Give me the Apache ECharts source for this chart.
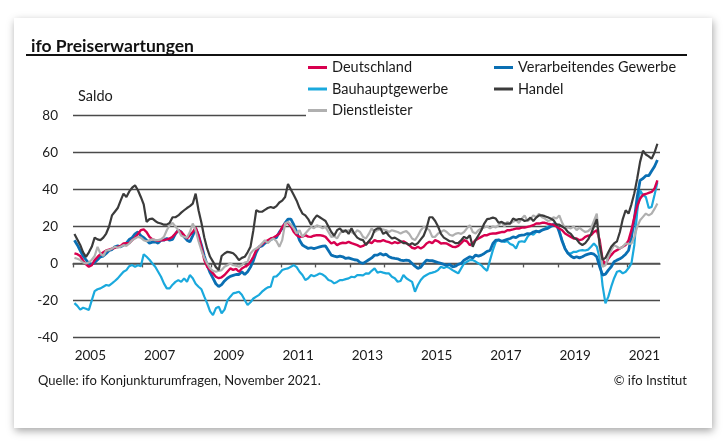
<!DOCTYPE html>
<html><head><meta charset="utf-8">
<script src="https://cdn.jsdelivr.net/npm/echarts@6/dist/echarts.min.js"></script>
<style>
html,body{margin:0;padding:0;background:#fff;}
#card{position:absolute;left:14px;top:18px;width:698px;height:410px;background:#fff;box-shadow:1px 3px 8px rgba(0,0,0,0.35);}
#chart{position:absolute;left:0;top:0;width:728px;height:448px;}
</style></head><body>
<div id="card"></div><div id="chart"></div>
<script>
// Monthly data, Jan 2005 .. Nov 2021 (Saldo)
const startYear = 2005;
const yTickValues = [-40, -20, 0, 20, 40, 60, 80];
const yearTicks = [2005,2006,2007,2008,2009,2010,2011,2012,2013,2014,2015,2016,2017,2018,2019,2020,2021];
const yearLabels = [2005,2007,2009,2011,2013,2015,2017,2019,2021];

const deutschland = [
  5.5,5,4,1.5,-0.5,-1.8,-1,1.8,3.5,5,6,7,
  7.5,8,8.5,9,9.5,10.8,11,11,12.6,14,16,18,
  18.4,17,14.4,13,12.6,12.2,12.5,12.6,13,13.5,14.5,16.2,
  18,17,15.3,13.5,15.3,17,19.4,15.3,9,1.8,-1.8,-3.6,
  -5.4,-7.2,-8,-7.5,-6.3,-4.5,-2.7,-3.5,-3,-4.5,-2.7,-1.8,
  -0.9,0.9,3.6,7.2,9,10.4,11.7,12.6,13.5,14,15,16.2,
  19.8,21.6,22,20,17,15.3,14.4,14.5,15.3,14.5,14.4,15,
  15.3,15.3,15,14.4,12.6,10.8,11.5,9.9,10.8,11.2,11,11.7,
  11,10.5,9.9,9,9.5,10.5,11.7,11,12.6,12,12,12.6,
  12,11.5,10.8,11.5,11,11.5,12,11,9.9,8.5,8.1,9,
  8.1,9,10.8,11.7,11,12.6,12,10.8,11,10.8,9.9,9,
  8.8,9.5,11,12.6,12,9.9,11,12.6,13.5,14.4,15.3,15.3,
  16,16.2,16.2,16.6,17,17,18,18,18.4,18.9,18.9,19.4,
  19.4,19.8,20.2,20.7,21.6,21.6,22,22,21.5,21.2,21,20,
  18.9,18,16.2,15.3,14.4,13.5,13.5,12.6,13,14.4,15,15.3,
  17,18,12.6,2,-0.5,2.5,4.5,6.3,7.2,8.1,9,10,
  12.5,18,25,31,35,37.2,37.6,38.2,38.7,40.5,45
];
const verarbeitendes = [
  12.6,10,7,4,2,0,-0.5,0.5,2,3.6,4,5.4,
  7,7.5,9,9.5,9,10,11,13,14,16,17,15,
  14,12.5,11,11.5,11.7,11,12.6,12.6,13.5,12.6,13,16,
  18,17,14.4,12.6,11.7,15,19,15,10,4,-1,-5,
  -8,-11,-12.5,-11.5,-9.5,-8,-7,-6.5,-6,-6,-4.5,-6,
  -4.5,-2,1.5,6,9,9.5,11,11.7,13,13.5,14,17,
  19,22,24,24,21,17,12.6,10,9,8.1,8.5,8,
  8.5,9,9.4,9.5,7,4.5,4,3.6,4,3.6,2.7,3,
  2.5,2,1.8,0.5,0,1,2,3,4.5,4.5,5.4,4.5,
  5,3.6,3,2.7,2.5,1.8,1.5,1.8,1.5,0,-1.5,-2.7,
  -2,0,1.8,1.5,1.5,1,0.5,0,-0.5,-1,-0.5,-1.8,
  -1.5,-0.5,0,1.8,2.7,3.6,3,4.5,4,4.5,5.4,6.5,
  7,10.8,12.6,12.6,12,12.5,13,13.5,14.4,14,15,15.3,
  15.5,16.2,16,17,17.5,17,18,18.5,19,20,20.7,21.2,
  17,12,8,5.5,4,3,3.6,3,3.6,4.5,5,5.4,
  5,3.6,-1.8,-6.3,-5.8,-3.6,-1.8,0.9,1.8,2.5,3.6,5,
  7,14,24,36,45,46,47.5,47.5,50,52.5,56
];
const bauhaupt = [
  -21.5,-23,-25,-24,-24.5,-25.2,-20,-15,-14,-13.5,-12.6,-11.7,
  -12,-10.8,-9.5,-8.1,-6.3,-4.5,-3.6,-1.5,-0.9,-1.8,-1,-1.5,
  5,3.6,2,0,-1.8,-4.5,-7.2,-10.8,-13.5,-13.5,-11.5,-10,
  -9,-10,-8.1,-9.9,-6.3,-8,-11,-12.6,-14,-18,-21.6,-26,
  -28,-24.3,-23.4,-27,-25,-20,-18,-16.2,-15.8,-15.3,-17,-19.8,
  -22.5,-21,-19,-18,-17,-15.3,-14,-13,-12.6,-7.2,-7,-5.4,
  -3.6,-3,-2.7,-1.8,-0.9,-2,-4.5,-6.3,-9,-8,-6.3,-7,
  -6.3,-5.4,-6,-7.2,-9,-9.5,-10.8,-10,-9,-9,-8.5,-8.1,
  -7.2,-7.5,-6.3,-6.3,-6.5,-5.4,-5.5,-4,-2.7,-5,-4.5,-5,
  -5.4,-5.4,-7.2,-8,-9.9,-9.5,-6.3,-8,-9,-10,-15.3,-11.7,
  -9,-7.2,-6.3,-5.4,-5,-4.5,-3.6,-1.8,-2.5,-1.8,-2.5,-3.6,
  -4.5,-5.4,-2.7,0,0.9,1.8,1.8,1,0,-1,-2.7,-4,
  1.8,7.2,11.7,13,12,11.7,12,10.5,9.9,8.1,11.7,12,
  11.7,14.4,16.2,15.5,17,17.5,18,18.9,19.8,20.5,21.6,21,
  18,12.6,8.1,5.4,5.4,6.3,6.3,7,7.2,7,7.5,9,
  10.8,9,3,-12,-21.6,-18,-12.6,-8,-4.5,-4,-5.4,-4.5,
  -2.5,0,10,28,39.6,37,36,30,30.6,37,44
];
const handel = [
  16,13,10,6,3.6,6,9,14,13,12.6,14,16.2,
  20,26,28,30,34,37.8,36,39,41,42.3,39.6,36,
  32,22.5,24,24.3,23,22,21.6,21,21,22,25,25,
  26,27.5,28.8,30,31,32.4,37.8,28.8,22,14,8,3.6,
  1,-2,-3.6,4,5.4,6.3,6,5.5,4,1.8,3,3.6,
  6,9,18,28.8,28,28,29,30,30.6,30,31,33,
  34,36,43,40,37,34,30,27,26,24,21,24,
  26,25,24,23,20,17,15,18,19,17,18,16,
  19,16,14,13,12.6,10,12,14,18,19,19,16,
  17,15,13.5,14,13,12,11,11,10,11,10,11,
  13,15,19,25,25,23,20,16,14,13,12,12,
  11,11,12.6,14.4,13.5,15.3,9,12.6,15.3,18,21.6,24,
  24.3,24.8,24.3,22,22.5,21.6,21.6,21.6,24.3,23.5,24,24,
  23,23.4,24.8,23,24.8,26,26,25.6,25,24.3,23.4,21,
  21,20,19,17,16,14,13,11,10,11,13,16,
  20,24,10,2,3,6,9,10.8,12,17,24,28.8,
  27,32,38,46,55,61,59,58,56.7,60,64.8
];
const dienstleister = [
  3,2.5,1.8,0.5,0,0.5,2,4,9,5.4,4,7,
  7.2,8,9,8.5,9,9.9,9.5,10.8,12.6,13.5,14.4,14,
  12.6,12,12.6,13,12.6,12.6,13,14.4,18,20.7,22,20,
  18,15,14.4,14,17,21.6,18,12,7,3,0,-2.7,
  -4,-4.5,-4,-3.6,-1.8,-1,0,-1,-1.2,-1.8,-0.9,0.5,
  0.9,5.4,7.2,8.1,9,10.8,12.6,11,12.6,13.5,12,9,
  12.6,21.6,22.5,21,19,16.2,18,14.4,16.2,18,19.8,19,
  20.7,20,19,19.8,17,14.4,14.8,13.5,16.2,18,17,18,
  17,16,18,17,14.4,13.5,16,19,17,18,18.4,18.4,
  18,17,18,17.5,17,16.2,17,17.5,16,13.5,12.6,15,
  18,19.8,19,18,14.4,14.4,16.2,17,18,17,15.5,15,
  16,16.5,16,17,19,20.7,17,16.2,18,19,19.5,20,
  19,20,19.5,20.7,22.5,20,22.5,21.6,22.5,23.4,22,24.3,
  26,23,24,26,25,27,25,24.3,23,23.4,25,24.3,
  26,22,19,19.5,19,20,18,19.4,18,17,17.5,19,
  23,27,8,-1.8,-1,3.6,7.2,9.9,9,8.1,9,10.8,
  10.5,10.8,14.4,19.8,23.4,25.2,27,26,27,29.5,32.4
];

function toPoints(arr) {
  return arr.map((v, i) => [startYear + (i + 0.5) / 12, v]);
}

const FONT = 'Lato';
const chart = echarts.init(document.getElementById('chart'), null, {renderer: 'canvas'});

const seriesDefs = [
  {name: 'Bauhauptgewerbe', data: bauhaupt, color: '#1aa9dd', width: 2.2},
  {name: 'Verarbeitendes Gewerbe', data: verarbeitendes, color: '#0a6fb3', width: 2.8},
  {name: 'Deutschland', data: deutschland, color: '#d8004f', width: 2.4},
  {name: 'Dienstleister', data: dienstleister, color: '#b0b0b0', width: 2.2},
  {name: 'Handel', data: handel, color: '#3b3b3b', width: 2.2}
];

const legendText = {fontFamily: FONT, fontSize: 14.5, color: '#1a1a1a', lineHeight: 14};

chart.setOption({
  animation: false,
  textStyle: {fontFamily: FONT},
  grid: {left: 73, right: 68, top: 115.7, bottom: 110.7, containLabel: false},
  title: {
    text: 'ifo Preiserwartungen', left: 26, top: 32,
    textStyle: {fontFamily: FONT, fontSize: 17.5, fontWeight: 'bold', color: '#111'}
  },
  legend: [
    {
      data: ['Deutschland', 'Bauhauptgewerbe', 'Dienstleister'],
      orient: 'vertical', left: 308, top: 60, padding: 0, itemGap: 6.5, z: 20,
      itemWidth: 19, itemHeight: 3, icon: 'rect', textStyle: legendText
    },
    {
      data: ['Verarbeitendes Gewerbe', 'Handel'],
      orient: 'vertical', left: 494, top: 60, padding: 0, itemGap: 6.5, z: 20,
      itemWidth: 19, itemHeight: 3, icon: 'rect', textStyle: legendText
    }
  ],
  xAxis: {
    type: 'value', min: 2005, max: 2021.95,
    axisLine: {show: true, lineStyle: {color: '#555', width: 1.5}},
    axisTick: {show: true, customValues: yearTicks, length: 4, lineStyle: {color: '#555', width: 1.3}},
    axisLabel: {
      customValues: yearLabels.map(y => y + 0.5),
      formatter: v => String(Math.floor(v)),
      fontFamily: FONT, fontSize: 13.5, color: '#1a1a1a', margin: 11
    },
    splitLine: {show: false}
  },
  yAxis: {
    type: 'value', min: -40, max: 80, interval: 20,
    axisLine: {show: false}, axisTick: {show: false},
    axisLabel: {fontFamily: FONT, fontSize: 13.5, color: '#1a1a1a', margin: 15},
    splitLine: {show: true, lineStyle: {color: '#4a4a4a', width: 1.3}}
  },
  graphic: [
    {type: 'rect', left: 26, top: 54, shape: {width: 661, height: 2}, style: {fill: '#111'}, z: 100},
    {type: 'rect', left: 306, top: 112, shape: {width: 362, height: 7}, style: {fill: '#fff'}, z: 1},
    {type: 'text', left: 78, top: 89, style: {text: 'Saldo', font: '14.5px ' + FONT, fill: '#1a1a1a'}, z: 100},
    {type: 'text', left: 38, top: 374, style: {text: 'Quelle: ifo Konjunkturumfragen, November 2021.', font: '13px ' + FONT, fill: '#1a1a1a'}, z: 100},
    {type: 'text', right: 41, top: 374, style: {text: '\u00a9 ifo Institut', font: '13px ' + FONT, fill: '#1a1a1a'}, z: 100}
  ],
  series: seriesDefs.map(s => ({
    name: s.name, type: 'line', data: toPoints(s.data), color: s.color,
    showSymbol: false, symbol: 'none', smooth: false,
    lineStyle: {color: s.color, width: s.width}
  }))
});
</script>
</body></html>
